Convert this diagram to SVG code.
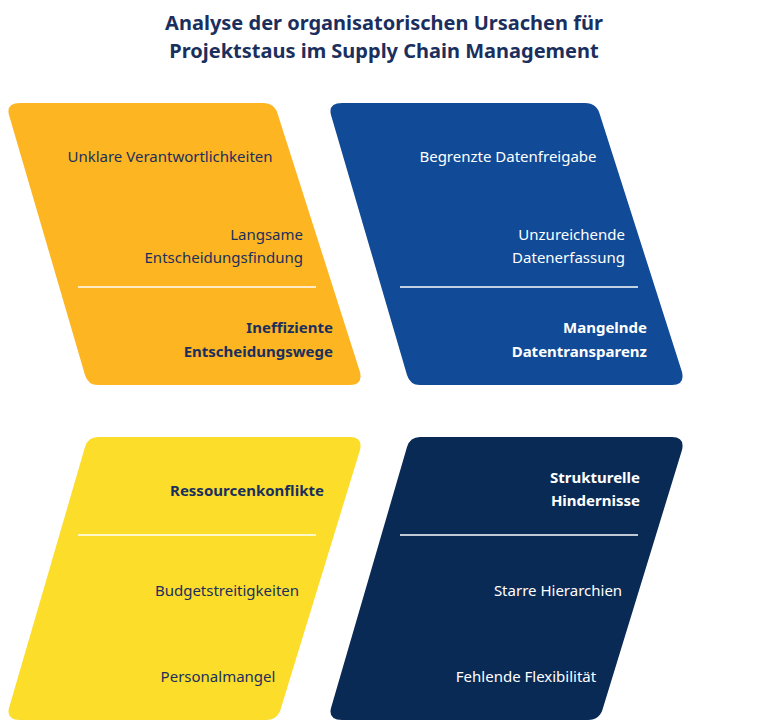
<svg xmlns="http://www.w3.org/2000/svg" width="768" height="722" viewBox="0 0 768 722">
<style>
text{font-family:"Noto Sans","Open Sans",sans-serif;font-size:15px}
.t{font-size:20px;font-weight:bold;fill:#1B2F5E;text-anchor:middle}
.d{fill:#1B2F5E}.w{fill:#fff}.b{font-weight:bold}
.m{text-anchor:middle}.e{text-anchor:end}
.sep{stroke:#fff;stroke-width:1.5}
</style>
<rect width="768" height="722" fill="#fff"/>
<text class="t" x="384" y="30">Analyse der organisatorischen Ursachen für</text>
<text class="t" x="384" y="58">Projektstaus im Supply Chain Management</text>
<g id="n1">
<path d="M20 103 H263 Q275 103 278 115 L360 372 Q363 385 350 385 H98 Q88 385 85 375 L9 115 Q6 103 20 103Z" fill="#FDB522" stroke-linejoin="round"/>
<text class="d m" x="170" y="162">Unklare Verantwortlichkeiten</text>
<text class="d e" x="303" y="240">Langsame</text>
<text class="d e" x="303" y="263">Entscheidungsfindung</text>
<line class="sep" x1="78" y1="287" x2="316" y2="287"/>
<text class="d e b" x="333" y="333">Ineffiziente</text>
<text class="d e b" x="333" y="357">Entscheidungswege</text>
</g>
<g id="n2">
<path d="M342 103 H585 Q597 103 600 115 L682 372 Q685 385 672 385 H420 Q410 385 407 375 L331 115 Q328 103 342 103Z" fill="#114A96"/>
<text class="w m" x="508" y="162">Begrenzte Datenfreigabe</text>
<text class="w e" x="625" y="240">Unzureichende</text>
<text class="w e" x="625" y="263">Datenerfassung</text>
<line class="sep" x1="400" y1="287" x2="638" y2="287"/>
<text class="w e b" x="647" y="333">Mangelnde</text>
<text class="w e b" x="647" y="357">Datentransparenz</text>
</g>
<g id="n3">
<path d="M98 437 H350 Q363 437 360 450 L281 708 Q278 720 266 720 H20 Q6 720 9 708 L85 447 Q88 437 98 437Z" fill="#FBDD2A"/>
<text class="d m b" x="247" y="496">Ressourcenkonflikte</text>
<line class="sep" x1="78" y1="535" x2="316" y2="535"/>
<text class="d m" x="227" y="596">Budgetstreitigkeiten</text>
<text class="d m" x="218" y="682">Personalmangel</text>
</g>
<g id="n4">
<path d="M420 437 H672 Q685 437 682 450 L603 708 Q600 720 588 720 H342 Q328 720 331 708 L407 447 Q410 437 420 437Z" fill="#0A2A56"/>
<text class="w e b" x="640" y="483">Strukturelle</text>
<text class="w e b" x="640" y="506">Hindernisse</text>
<line class="sep" x1="400" y1="535" x2="638" y2="535"/>
<text class="w m" x="558" y="596">Starre Hierarchien</text>
<text class="w m" x="526" y="682">Fehlende Flexibilität</text>
</g>
<g id="connectors"></g>
</svg>
